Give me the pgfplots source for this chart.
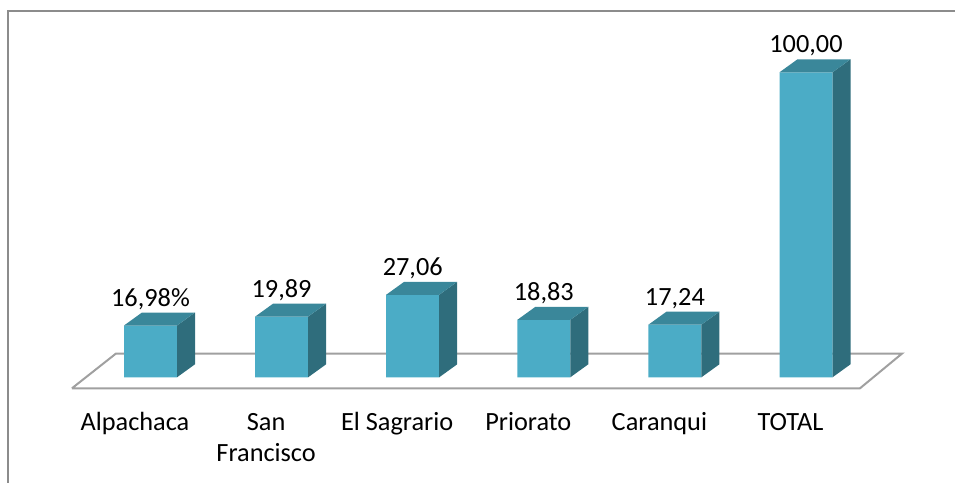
\documentclass[border=0pt]{standalone}
\usepackage{pgfplots}
\pgfplotsset{compat=1.18}
\usepackage{pgfplotstable}
\usepackage{fontspec}
\setmainfont{Carlito}
\definecolor{frontc}{HTML}{4BACC6}
\definecolor{topc}{HTML}{3A879A}
\definecolor{sidec}{HTML}{2F6D7C}
\definecolor{floorc}{HTML}{A0A0A0}
\definecolor{framec}{HTML}{8C8C8C}

\pgfplotstableread{
x y lab
0 16.98 16,98\%
1 19.89 19,89
2 27.06 27,06
3 18.83 18,83
4 17.24 17,24
5 100.00 100,00
}\datatable

\pgfplotstableread{
x y
-0.599 -3.6
5.412 -3.6
5.733 7.8
-0.263 7.8
-0.599 -3.6
}\floortable

\pgfdeclareplotmark{cubecap}{%
  \pgfmathsetmacro\hh{\myh*3.05}%
  \pgfpathmoveto{\pgfpoint{26.5bp}{0bp}}%
  \pgfpathlineto{\pgfpoint{44.5bp}{13bp}}%
  \pgfpathlineto{\pgfpoint{44.5bp}{13bp-\hh bp}}%
  \pgfpathlineto{\pgfpoint{26.5bp}{-\hh bp}}%
  \pgfpathclose
  \pgfsetfillcolor{sidec}\pgfusepath{fill}%
  \pgfpathmoveto{\pgfpoint{-26.5bp}{0bp}}%
  \pgfpathlineto{\pgfpoint{-8.5bp}{13bp}}%
  \pgfpathlineto{\pgfpoint{44.5bp}{13bp}}%
  \pgfpathlineto{\pgfpoint{26.5bp}{0bp}}%
  \pgfpathclose
  \pgfsetfillcolor{topc}\pgfusepath{fill}%
}

\begin{document}
\begin{tikzpicture}
\begin{axis}[
  x=131.1bp, y=3.05bp,
  xmin=-0.6, xmax=5.75, ymin=0, ymax=100,
  clip=false,
  axis line style={draw=none},
  tick style={draw=none},
  ytick=\empty,
  xtick={0,1,2,3,4,5},
  xticklabels={Alpachaca,{\begin{tabular}[t]{@{}c@{}}San\\Francisco\end{tabular}},El Sagrario,Priorato,Caranqui,TOTAL},
  xticklabel style={anchor=base, yshift=-52.7bp, xshift=-15.5bp, inner sep=0pt,
    font=\fontsize{26.3bp}{31.7bp}\selectfont},
]
\coordinate (O) at (axis cs:0,0);
\addplot[draw=floorc, line width=2bp, mark=none] table[x=x,y=y]{\floortable};
\addplot[ybar, bar width=53bp, bar shift=0pt, fill=frontc, draw=none] table[x=x,y=y]{\datatable};
\addplot[only marks, mark=cubecap,
  visualization depends on={rawy \as \myh},
] table[x=x,y=y]{\datatable};
\addplot[only marks, mark=none,
  nodes near coords, point meta=explicit symbolic,
  every node near coord/.append style={anchor=base, yshift=19.5bp, inner sep=0pt,
    text=black, font=\fontsize{26.3bp}{31bp}\selectfont},
] table[x=x,y=y,meta=lab]{\datatable};
\end{axis}
\pgfresetboundingbox
\begin{scope}[shift={(O)}]
\path[use as bounding box] (-150.5bp,-105.7bp) rectangle (804.5bp,377.3bp);
\draw[framec, line width=2bp] (-142.5bp,-120bp) -- (-142.5bp,366bp) -- (820bp,366bp);
\end{scope}
\end{tikzpicture}
\end{document}
